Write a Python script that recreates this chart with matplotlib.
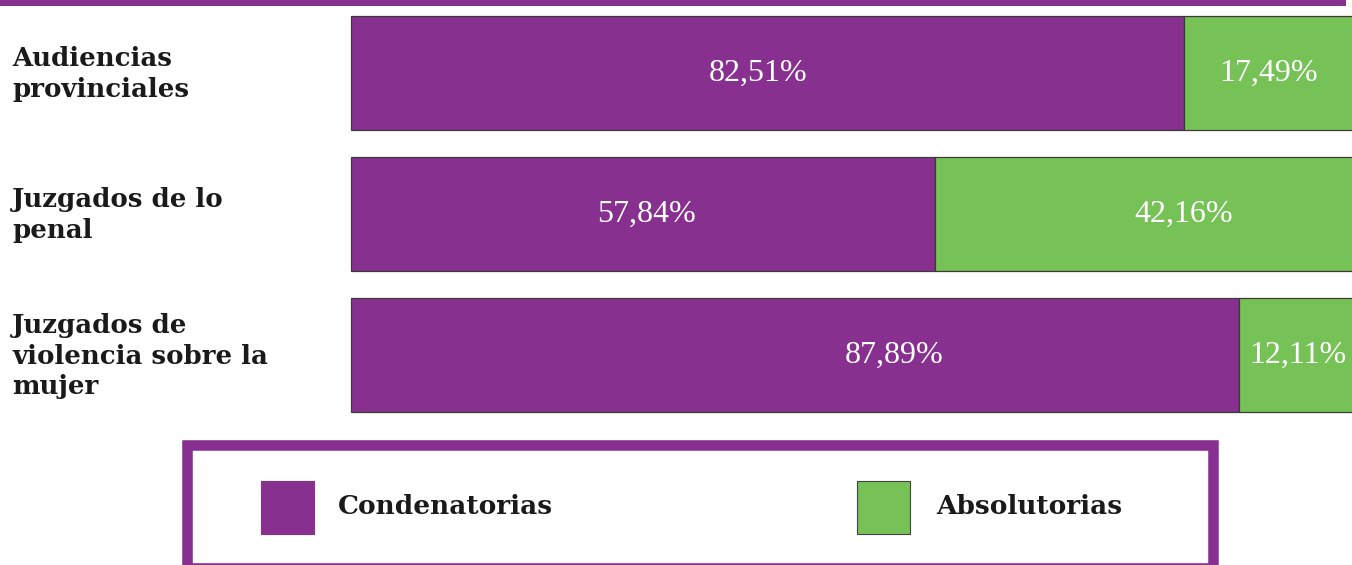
import matplotlib
matplotlib.use("Agg")
import matplotlib.pyplot as plt
from matplotlib.patches import Rectangle

# Data
categories = ["Audiencias\nprovinciales", "Juzgados de lo\npenal",
              "Juzgados de\nviolencia sobre la\nmujer"]
condenatorias = [82.51, 57.84, 87.89]
absolutorias = [17.49, 42.16, 12.11]
series_names = ["Condenatorias", "Absolutorias"]

PURPLE = "#87308F"
GREEN = "#77C257"
NUM_FONT = "Liberation Serif"
LAB_FONT = "DejaVu Serif"

W, H = 1352, 565
fig = plt.figure(figsize=(W / 100, H / 100), dpi=100)


def fx(x):
    return x / W


def fy(y):
    return 1 - y / H


# bars axes: pixel x 351..1361, y 16..412
ax = fig.add_axes([fx(351), fy(412), fx(1361) - fx(351), fy(16) - fy(412)])
ax.set_xlim(0, 100)
ax.set_ylim(2.405, -0.405)
ax.axis("off")

ypos = list(range(len(categories)))
ax.barh(ypos, condenatorias, height=0.81, color=PURPLE,
        edgecolor="#3a3a3a", linewidth=0.9, clip_on=False)
ax.barh(ypos, absolutorias, left=condenatorias, height=0.81, color=GREEN,
        edgecolor="#3a3a3a", linewidth=0.9, clip_on=False)

# small nudges so labels sit where the original put them
shift_c = [-1.0, 0.3, 9.8]
shift_a = [-0.4, 3.5, -0.2]
for i in ypos:
    c, a = condenatorias[i], absolutorias[i]
    ax.text(c / 2 + shift_c[i], i, f"{c:.2f}".replace(".", ",") + "%",
            ha="center", va="center", color="white", fontsize=23, family=NUM_FONT)
    ax.text(c + a / 2 + shift_a[i], i, f"{a:.2f}".replace(".", ",") + "%",
            ha="center", va="center", color="white", fontsize=23, family=NUM_FONT)

# category labels
label_y = [74, 215, 356]
for lab, yy in zip(categories, label_y):
    fig.text(fx(12), fy(yy), lab, ha="left", va="center", fontsize=18.7,
             fontweight="bold", family=LAB_FONT, linespacing=1.28, color="#1a1a1a")

# top purple rule
fig.patches.append(Rectangle((fx(0), fy(6)), fx(1346), fy(0) - fy(6),
                             transform=fig.transFigure, color=PURPLE, lw=0))

# legend box
fig.patches.append(Rectangle((fx(187), fy(568)), fx(1213) - fx(187), fy(445.5) - fy(568),
                             transform=fig.transFigure, facecolor="white",
                             edgecolor=PURPLE, lw=7.6))
for name, col, x0, tx in [(series_names[0], PURPLE, 261, 338),
                          (series_names[1], GREEN, 857, 936)]:
    fig.patches.append(Rectangle((fx(x0), fy(534)), fx(53), fy(481) - fy(534),
                                 transform=fig.transFigure, facecolor=col,
                                 edgecolor="#444444" if col == GREEN else col, lw=0.8))
    fig.text(fx(tx), fy(506), name, ha="left", va="center", fontsize=19,
             fontweight="bold", family=LAB_FONT, color="#1a1a1a")

fig.savefig("out.png", dpi=100)
